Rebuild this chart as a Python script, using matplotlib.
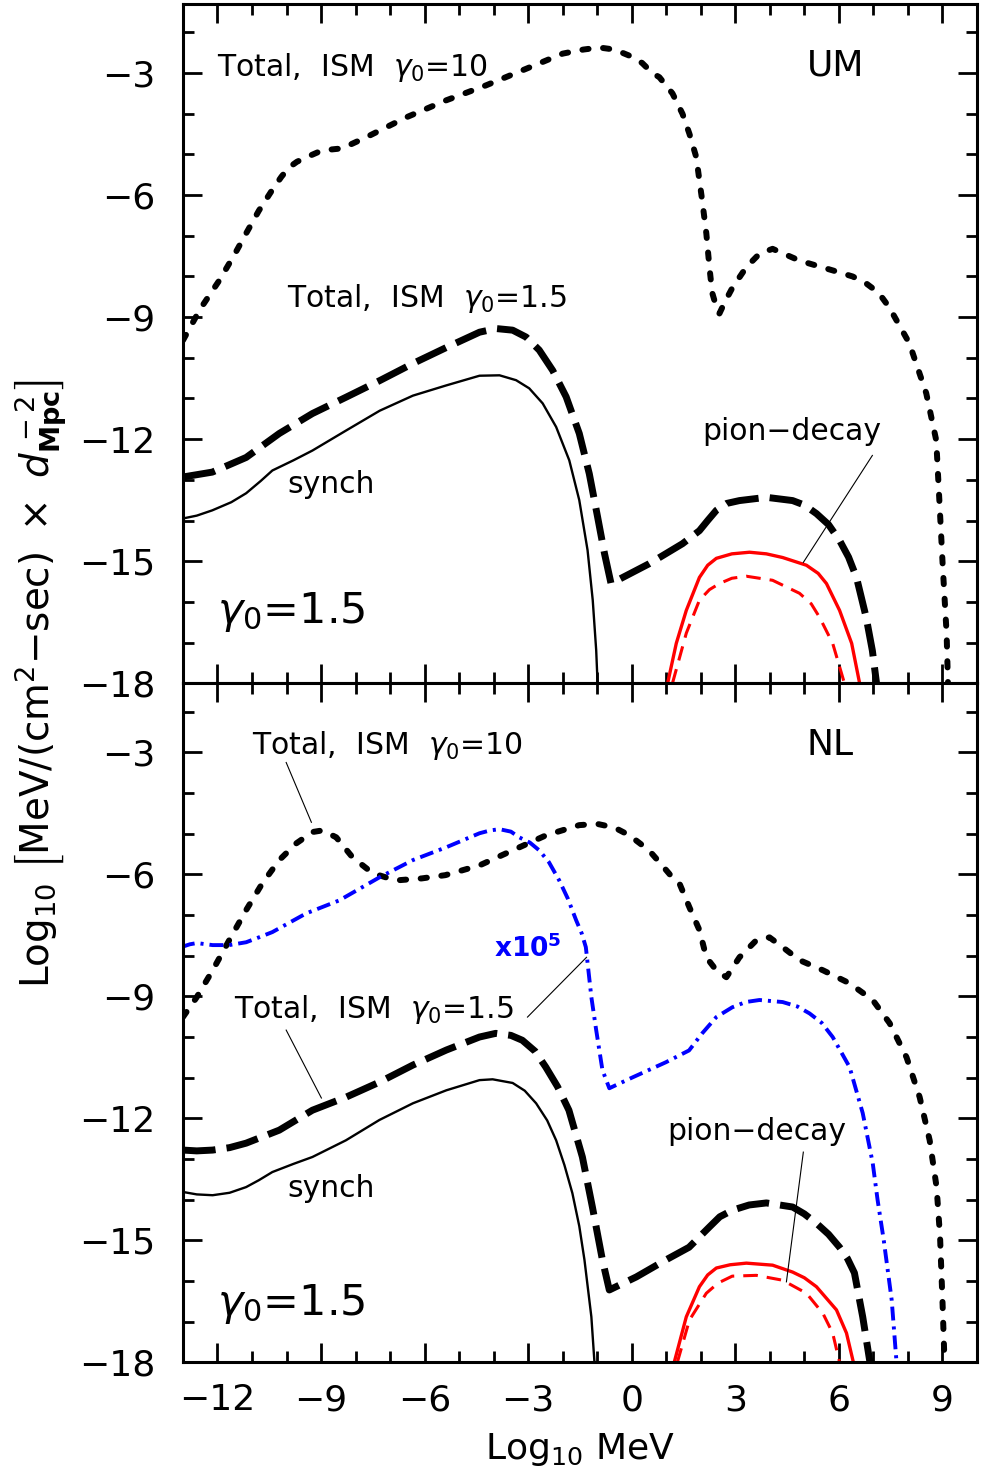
import matplotlib
matplotlib.use("Agg")
import matplotlib.pyplot as plt
import numpy as np

plt.rcParams['font.family'] = ['DejaVu Sans']
plt.rcParams['mathtext.fontset'] = 'dejavusans'
plt.rcParams['lines.scale_dashes'] = False

# ---------------- data (log10 MeV, log10 flux) ----------------
# Top panel (UM)
um_ism10_x = [-13.0, -12.5, -11.95, -11.5, -11.17, -10.8, -10.42, -10.15, -9.93, -9.7, -9.43, -8.97,
              -8.39, -7.70, -6.54, -5.38, -4.22, -3.05, -2.0, -1.4, -0.94, -0.5, -0.07, 0.30, 0.60,
              0.80, 1.18, 1.47, 1.67, 1.87, 1.96, 2.04, 2.16, 2.25, 2.33, 2.45, 2.54, 2.70, 2.92,
              3.32, 3.70, 4.08, 4.86, 5.82, 6.40, 6.79, 7.15, 7.46, 8.04, 8.53, 8.82, 8.91, 9.01,
              9.12, 9.16]
um_ism10_y = [-9.57, -8.80, -8.10, -7.45, -6.94, -6.38, -5.88, -5.55, -5.32, -5.18, -5.07, -4.90,
              -4.85, -4.58, -4.09, -3.67, -3.30, -2.89, -2.52, -2.42, -2.37, -2.42, -2.57, -2.75,
              -3.0, -3.1, -3.5, -4.0, -4.49, -5.07, -5.64, -6.13, -6.94, -7.77, -8.40, -8.75,
              -8.91, -8.62, -8.27, -7.77, -7.44, -7.32, -7.61, -7.85, -8.0, -8.17, -8.40, -8.76,
              -9.64, -10.87, -12.03, -13.50, -15.15, -16.77, -18.0]

um_ism15_x = [-13.0, -12.15, -11.17, -10.21, -9.25, -8.28, -7.30, -6.34, -5.38, -4.41, -3.93, -3.45,
              -3.06, -2.68, -2.29, -1.90, -1.52, -1.23, -0.99, -0.79, -0.60, 0.51, 1.47, 1.96, 2.20,
              2.45, 2.75, 3.12, 3.90, 4.66, 5.00, 5.35, 5.70, 6.02, 6.28, 6.51, 6.79, 6.97, 7.09]
um_ism15_y = [-12.93, -12.81, -12.45, -11.86, -11.37, -10.97, -10.56, -10.14, -9.75, -9.37, -9.28,
              -9.32, -9.49, -9.81, -10.31, -10.96, -11.86, -12.85, -13.91, -14.81, -15.55, -15.06,
              -14.57, -14.25, -14.0, -13.75, -13.58, -13.51, -13.43, -13.51, -13.62, -13.83, -14.10,
              -14.49, -14.90, -15.40, -16.38, -17.2, -18.0]

um_synch_x = [-13.0, -12.6, -12.15, -11.6, -11.17, -10.75, -10.41, -9.80, -9.25, -8.28, -7.30, -6.34,
              -5.38, -4.41, -3.83, -3.35, -2.97, -2.58, -2.19, -1.81, -1.52, -1.28, -1.13, -1.03, -0.99]
um_synch_y = [-13.95, -13.88, -13.75, -13.55, -13.33, -13.03, -12.77, -12.52, -12.28, -11.79, -11.30,
              -10.93, -10.68, -10.44, -10.43, -10.55, -10.75, -11.12, -11.70, -12.52, -13.50, -14.73,
              -15.96, -17.19, -18.0]

um_pion_x = [1.04, 1.29, 1.58, 1.96, 2.20, 2.45, 2.90, 3.41, 3.90, 4.37, 5.06, 5.40, 5.64, 6.02,
             6.37, 6.60]
um_pion_y = [-18.0, -17.02, -16.21, -15.40, -15.10, -14.93, -14.82, -14.78, -14.82, -14.91, -15.10,
             -15.30, -15.55, -16.21, -17.02, -18.0]

um_pion2_x = [1.18, 1.58, 1.96, 2.25, 2.54, 2.90, 3.32, 4.08, 4.86, 5.20, 5.44, 5.82, 6.16]
um_pion2_y = [-18.0, -16.77, -15.96, -15.70, -15.55, -15.42, -15.37, -15.47, -15.79, -16.05, -16.38,
              -17.02, -18.0]

# Bottom panel (NL)
nl_ism10_x = [-13.0, -12.6, -12.14, -11.66, -11.17, -10.70, -10.21, -9.72, -9.25, -8.96, -8.56, -8.09,
              -7.51, -6.84, -6.08, -5.40, -4.41, -3.45, -2.48, -1.52, -1.0, -0.50, -0.07, 0.5, 0.85,
              1.1, 1.38, 1.67, 1.96, 2.16, 2.45, 2.74, 3.12, 3.61, 3.99, 4.37, 4.86, 5.54, 6.31,
              6.98, 7.47, 7.96, 8.34, 8.63, 8.83, 8.93, 9.0, 9.06]
nl_ism10_y = [-9.51, -9.02, -8.36, -7.62, -6.88, -6.22, -5.65, -5.24, -4.96, -4.92, -5.09, -5.58,
              -5.97, -6.15, -6.10, -6.02, -5.78, -5.41, -5.04, -4.79, -4.76, -4.85, -5.04, -5.41,
              -5.75, -6.0, -6.22, -6.81, -7.37, -8.04, -8.36, -8.53, -8.04, -7.62, -7.55, -7.79,
              -8.11, -8.36, -8.68, -9.09, -9.66, -10.50, -11.48, -12.54, -13.69, -14.9, -16.47, -18.0]

nl_ism15_x = [-13.0, -12.6, -12.14, -11.65, -11.17, -10.21, -9.25, -8.28, -7.31, -6.34, -5.37, -4.41,
              -3.94, -3.50, -3.17, -2.80, -2.49, -2.15, -1.82, -1.43, -1.14, -0.85, -0.65, 0.13,
              0.99, 1.66, 2.25, 2.55, 2.91, 3.40, 3.90, 4.66, 5.00, 5.35, 5.70, 6.02, 6.25, 6.45,
              6.69, 6.9]
nl_ism15_y = [-12.78, -12.80, -12.78, -12.72, -12.61, -12.29, -11.80, -11.48, -11.11, -10.69, -10.32,
              -10.00, -9.91, -9.96, -10.08, -10.35, -10.74, -11.22, -11.80, -12.95, -14.18, -15.48,
              -16.22, -15.90, -15.48, -15.17, -14.67, -14.42, -14.26, -14.13, -14.08, -14.18,
              -14.35, -14.58, -14.85, -15.17, -15.45, -15.8, -16.88, -18.0]

nl_synch_x = [-13.0, -12.6, -12.14, -11.65, -11.17, -10.80, -10.41, -9.80, -9.25, -8.28, -7.31, -6.34,
              -5.37, -4.41, -4.03, -3.45, -3.10, -2.77, -2.45, -2.19, -1.95, -1.72, -1.52, -1.37,
              -1.17, -1.08]
nl_synch_y = [-13.81, -13.87, -13.89, -13.83, -13.69, -13.52, -13.32, -13.12, -12.95, -12.54, -12.04,
              -11.63, -11.31, -11.06, -11.04, -11.13, -11.32, -11.63, -12.05, -12.54, -13.15, -13.84,
              -14.65, -15.48, -16.88, -18.0]

nl_x5_x = [-13.05, -12.8, -12.6, -12.14, -11.66, -11.17, -10.80, -10.41, -9.43, -8.47, -7.30, -6.34,
           -5.36, -4.41, -4.10, -3.83, -3.50, -3.26, -2.95, -2.68, -2.40, -2.10, -1.85, -1.61, -1.45,
           -1.33, -1.17, -1.03, -0.85, -0.65, 0.03, 0.99, 1.66, 2.04, 2.45, 2.91, 3.30, 3.70, 4.37,
           4.80, 5.15, 5.50, 5.82, 6.31, 6.69, 6.98, 7.12, 7.30, 7.53, 7.67]
nl_x5_y = [-7.79, -7.72, -7.69, -7.74, -7.74, -7.67, -7.55, -7.42, -6.96, -6.64, -6.07, -5.65,
           -5.33, -4.99, -4.92, -4.89, -4.95, -5.09, -5.22, -5.41, -5.70, -6.15, -6.60, -7.13, -7.45,
           -7.79, -9.02, -9.83, -10.81, -11.26, -10.99, -10.62, -10.33, -9.91, -9.51, -9.27, -9.14,
           -9.09, -9.14, -9.25, -9.42, -9.65, -10.00, -10.74, -11.87, -13.10, -14.0, -15.0,
           -16.47, -18.0]

nl_pion_x = [1.23, 1.58, 1.96, 2.20, 2.45, 2.85, 3.32, 4.08, 4.66, 5.00, 5.35, 5.93, 6.22, 6.42]
nl_pion_y = [-18.0, -16.88, -16.14, -15.85, -15.68, -15.60, -15.56, -15.61, -15.78, -15.92, -16.14,
             -16.71, -17.28, -18.0]

nl_pion2_x = [1.32, 1.67, 2.16, 2.50, 2.91, 3.61, 4.37, 5.06, 5.54, 5.82, 6.02]
nl_pion2_y = [-18.0, -16.96, -16.30, -16.05, -15.88, -15.86, -15.98, -16.30, -16.80, -17.28, -18.0]

x_ticks = [-12, -9, -6, -3, 0, 3, 6, 9]
y_ticks = [-3, -6, -9, -12, -15, -18]

# ---------------- figure ----------------
fig = plt.figure(figsize=(9.81, 14.81), dpi=100)
left, width = 0.1865, 0.8094
h = 0.4586
ax_top = fig.add_axes([left, 0.0801 + h, width, h])
ax_bot = fig.add_axes([left, 0.0801, width, h])

TICK_FS = 26
ANN_FS = 21.5


def style_axis(ax, show_xlabels):
    ax.set_xlim(-13, 10)
    ax.set_ylim(-18, -1.3)
    ax.set_xticks(x_ticks)
    ax.set_yticks(y_ticks)
    ax.set_xticks(np.arange(-13, 11, 1), minor=True)
    ax.set_yticks(np.arange(-18, -1, 1), minor=True)
    ax.tick_params(which='both', direction='in', top=True, right=True, width=2.0)
    ax.tick_params(which='major', length=13.5)
    ax.tick_params(which='minor', length=8)
    ax.tick_params(axis='y', labelsize=TICK_FS, pad=20)
    ax.tick_params(axis='x', labelsize=TICK_FS, pad=15)
    if not show_xlabels:
        ax.tick_params(axis='x', labelbottom=False)
    for s in ax.spines.values():
        s.set_linewidth(2.2)


def draw_curves(ax, ism10, ism15, synch, pion, pion2):
    ax.plot(*ism10, color='black', lw=4.3, dashes=(4.5, 10.5), dash_capstyle='round',
            solid_joinstyle='round', dash_joinstyle='round')
    ax.plot(*ism15, color='black', lw=5.0, dashes=(23.5, 8), dash_capstyle='butt',
            dash_joinstyle='round')
    ax.plot(*synch, color='black', lw=1.7, solid_joinstyle='round')
    ax.plot(*pion, color='red', lw=2.4, solid_joinstyle='round')
    ax.plot(*pion2, color='red', lw=2.2, dashes=(10.5, 6.5))


for ax in (ax_top, ax_bot):
    style_axis(ax, ax is ax_bot)

draw_curves(ax_top, (um_ism10_x, um_ism10_y), (um_ism15_x, um_ism15_y),
            (um_synch_x, um_synch_y), (um_pion_x, um_pion_y), (um_pion2_x, um_pion2_y))
draw_curves(ax_bot, (nl_ism10_x, nl_ism10_y), (nl_ism15_x, nl_ism15_y),
            (nl_synch_x, nl_synch_y), (nl_pion_x, nl_pion_y), (nl_pion2_x, nl_pion2_y))
ax_bot.plot(nl_x5_x, nl_x5_y, color='blue', lw=2.8, dashes=(10, 4.3, 2.2, 4.3))

# ---------------- annotations ----------------
g10 = r'Total,  ISM  $\gamma_0$=10'
g15 = r'Total,  ISM  $\gamma_0$=1.5'

ax_top.text(-12.0, -3.06, g10, fontsize=ANN_FS, ha='left', va='baseline')
ax_top.text(5.06, -3.06, 'UM', fontsize=26, ha='left', va='baseline')
ax_top.text(-10.0, -8.76, g15, fontsize=ANN_FS, ha='left', va='baseline')
ax_top.text(-9.98, -13.33, 'synch', fontsize=ANN_FS, ha='left', va='baseline')
ax_top.text(-12.0, -16.52, r'$\gamma_0$=1.5', fontsize=31, ha='left', va='baseline')
ax_top.text(2.04, -12.03, 'pion\u2212decay', fontsize=ANN_FS, ha='left', va='baseline')
ax_top.plot([6.97, 4.97], [-12.40, -15.03], color='black', lw=0.8)

ax_bot.text(-11.0, -3.05, g10, fontsize=ANN_FS, ha='left', va='baseline')
ax_bot.plot([-10.01, -9.28], [-3.25, -4.72], color='black', lw=0.8)
ax_bot.text(5.06, -3.07, 'NL', fontsize=26, ha='left', va='baseline')
ax_bot.text(-3.99, -8.04, r'x10$^{\mathbf{5}}$', fontsize=19, color='blue', fontweight='bold',
            ha='left', va='baseline')
ax_bot.plot([-3.02, -1.31], [-9.51, -8.04], color='black', lw=0.8)
ax_bot.text(-11.52, -9.54, g15, fontsize=ANN_FS, ha='left', va='baseline')
ax_bot.plot([-10.01, -8.99], [-9.83, -11.50], color='black', lw=0.8)
ax_bot.text(-9.98, -13.94, 'synch', fontsize=ANN_FS, ha='left', va='baseline')
ax_bot.text(-12.0, -16.84, r'$\gamma_0$=1.5', fontsize=31, ha='left', va='baseline')
ax_bot.text(1.03, -12.54, 'pion\u2212decay', fontsize=ANN_FS, ha='left', va='baseline')
ax_bot.plot([4.97, 4.48], [-12.83, -16.02], color='black', lw=0.8)

ax_bot.set_xlabel(r'Log$_{10}$ MeV', fontsize=26, labelpad=10)
fig.text(0.041, 0.5388, r'Log$_{10}$ $\left[\mathrm{MeV/(cm^2{-}sec)}\ \times\ d^{\,-2}_{\mathbf{Mpc}}\right]$',
         rotation=90, fontsize=28, ha='center', va='center')

fig.savefig('out.png', dpi=100)
